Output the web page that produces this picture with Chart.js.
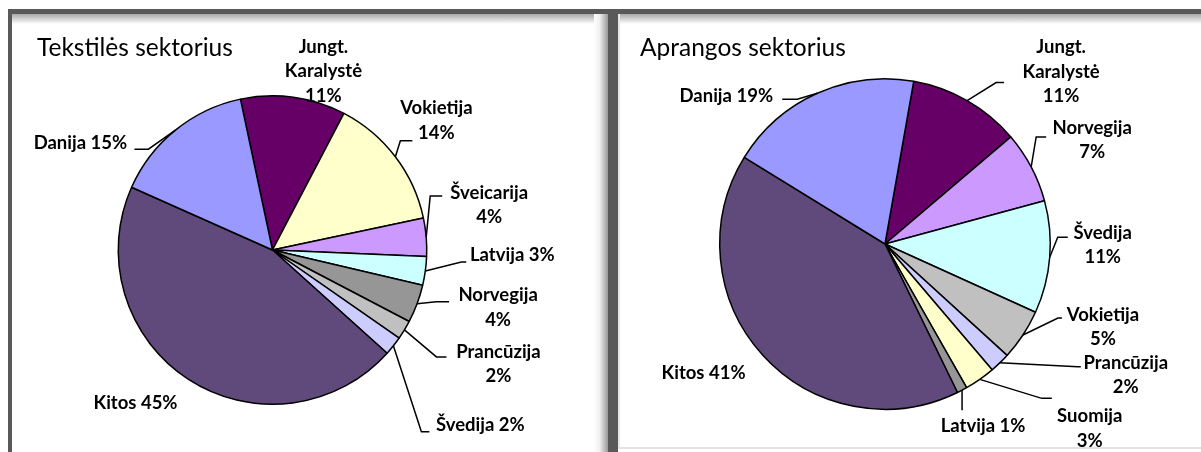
<!DOCTYPE html>
<html>
<head>
<meta charset="utf-8">
<script src="https://cdn.jsdelivr.net/npm/chart.js@4.4.1/dist/chart.umd.min.js"></script>
<style>
  body { margin: 0; width: 1201px; height: 452px; overflow: hidden; position: relative; background: #fff; }
  .bar { position: absolute; background: #595959; }
  .shade { position: absolute; }
  canvas { position: absolute; top: 0; }
</style>
</head>
<body>
<div class="shade" style="left:12px;top:14px;width:596px;height:10px;background:linear-gradient(#a8a8a8,#fff)"></div>
<div class="shade" style="left:594px;top:14px;width:14px;height:438px;background:linear-gradient(to right,#fff,#f0f0f0 40%,#9a9a9a)"></div>
<div class="shade" style="left:618px;top:14px;width:583px;height:10px;background:linear-gradient(#a8a8a8,#fff)"></div>
<div class="shade" style="left:618px;top:14px;width:2px;height:434px;background:#e8e8e8"></div>
<div class="shade" style="left:618px;top:447px;width:583px;height:2px;background:#e2e2e2"></div>
<div class="bar" style="left:8px;top:9px;width:1193px;height:5px"></div>
<div class="bar" style="left:8px;top:9px;width:4px;height:443px"></div>
<div class="bar" style="left:608px;top:9px;width:10px;height:443px"></div>

<canvas id="textile" width="605" height="452" style="left:0"></canvas>
<canvas id="apparel" width="596" height="452" style="left:605px"></canvas>

<script>
// Tekstilės sektorius
const textileCountries = ["Jungt. Karalystė", "Vokietija", "Šveicarija", "Latvija", "Norvegija", "Prancūzija", "Švedija", "Kitos", "Danija"];
const textileShares = [11, 14, 4, 3, 4, 2, 2, 45, 15];
const textileColors = ["#660066", "#FFFFCC", "#CC99FF", "#CCFFFF", "#969696", "#C0C0C0", "#CCCCFF", "#604A7B", "#9999FF"];

// Aprangos sektorius
const apparelCountries = ["Jungt. Karalystė", "Norvegija", "Švedija", "Vokietija", "Prancūzija", "Suomija", "Latvija", "Kitos", "Danija"];
const apparelShares = [11, 7, 11, 5, 2, 3, 1, 41, 19];
const apparelColors = ["#660066", "#CC99FF", "#CCFFFF", "#C0C0C0", "#CCCCFF", "#FFFFCC", "#969696", "#604A7B", "#9999FF"];

// label placement, relative to the outer midpoint of each slice
// stack: name and value on separate lines; leader: [elbow dx, elbow dy, tail]
const textileLabelLayout = [
  { dx: 30, dy: -26, stack: true },
  { dx: 41, dy: -36, stack: true, leader: [5, -16, 12] },
  { dx: 63, dy: -32, stack: true, leader: [4, -41, 12] },
  { dx: 87, dy: -16, leader: [36, -9, 5] },
  { dx: 81, dy: 4, stack: true, leader: [19, -2, 13] },
  { dx: 94, dy: 34, stack: true, leader: [32, 27, 10] },
  { dx: 87, dy: 79, leader: [28, 86, 8] },
  { dx: -53, dy: 24 },
  { dx: -95, dy: 13, leader: [-27, 19, -14] },
];
const apparelLabelLayout = [
  { dx: 94, dy: -29, stack: true, leader: [29, -18, 8] },
  { dx: 61, dy: -27, stack: true, leader: [5, -30, 10] },
  { dx: 53, dy: -12, stack: true, leader: [8, -20, 10] },
  { dx: 80, dy: -8, stack: true, leader: [35, -17, 4] },
  { dx: 126, dy: 12, stack: true, leader: [78, 4, 3] },
  { dx: 110, dy: 49, stack: true, leader: [62, 19, 10] },
  { dx: 21, dy: 36, leader: [0, 20, 0] },
  { dx: -59, dy: 18 },
  { dx: -91, dy: 3, leader: [-20, 6, -15] },
];

const sliceLabels = {
  id: "sliceLabels",
  afterDraw(chart, args, opts) {
    const ctx = chart.ctx;
    const arcs = chart.getDatasetMeta(0).data;
    const names = chart.data.labels;
    const values = chart.data.datasets[0].data;
    ctx.save();
    ctx.fillStyle = "#000";
    ctx.font = "24.5px Lato";
    ctx.textAlign = "left";
    ctx.textBaseline = "middle";
    ctx.fillText(opts.title, opts.titleX, opts.titleY);

    ctx.font = "bold 18.5px Lato";
    ctx.textAlign = "center";
    ctx.strokeStyle = "#000";
    ctx.lineWidth = 1.5;
    arcs.forEach((arc, i) => {
      const lay = opts.layout[i];
      const mid = (arc.startAngle + arc.endAngle) / 2;
      const ax = arc.x + arc.outerRadius * Math.cos(mid);
      const ay = arc.y + arc.outerRadius * Math.sin(mid);
      if (lay.leader) {
        const [ex, ey, tail] = lay.leader;
        ctx.beginPath();
        ctx.moveTo(ax, ay);
        ctx.lineTo(ax + ex, ay + ey);
        ctx.lineTo(ax + ex + tail, ay + ey);
        ctx.stroke();
      }
      const pct = values[i] + "%";
      const lines = lay.stack ? names[i].split(" ").concat(pct) : [names[i] + " " + pct];
      const lh = 24.5;
      const top = ay + lay.dy - (lines.length - 1) * lh / 2;
      lines.forEach((t, k) => ctx.fillText(t, ax + lay.dx, top + k * lh));
    });
    ctx.restore();
  }
};

function pieChart(id, countries, shares, colors, rotation, padding, labelOpts) {
  return new Chart(document.getElementById(id), {
    type: "pie",
    data: {
      labels: countries,
      datasets: [{ data: shares, backgroundColor: colors, borderColor: "#000", borderWidth: 1.5 }],
    },
    options: {
      responsive: false,
      animation: false,
      rotation: rotation,
      layout: { padding: padding },
      plugins: {
        legend: { display: false },
        tooltip: { enabled: false },
        sliceLabels: labelOpts,
      },
    },
    plugins: [sliceLabels],
  });
}

pieChart("textile", textileCountries, textileShares, textileColors, -12,
  { left: 117, right: 177, top: 95, bottom: 47 },
  { title: "Tekstilės sektorius", titleX: 37, titleY: 48, layout: textileLabelLayout });

pieChart("apparel", apparelCountries, apparelShares, apparelColors, 10,
  { left: 114, right: 150, top: 78, bottom: 42 },
  { title: "Aprangos sektorius", titleX: 35, titleY: 48, layout: apparelLabelLayout });
</script>
</body>
</html>
